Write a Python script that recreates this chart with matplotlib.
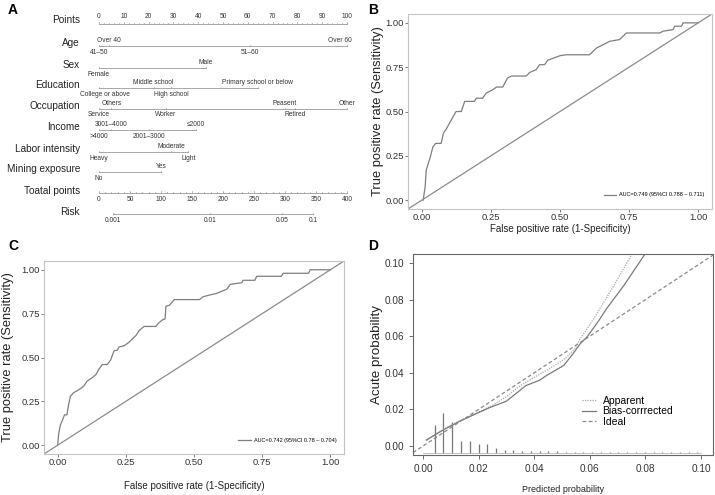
import matplotlib

matplotlib.use("Agg")
import matplotlib.pyplot as plt

plt.rcParams["font.family"] = ["Liberation Sans", "DejaVu Sans"]

W, H = 715, 495

# ---------------- nomogram (panel A) ----------------
row_names = ["Age", "Sex", "Education", "Occupation", "Income",
             "Labor intensity", "Mining exposure"]
age_levels = ["41–50", "Over 40", "51–60", "Over 60"]
age_points = [0, 4, 61, 100]
sex_levels = ["Female", "Male"]
sex_points = [0, 43]
edu_levels = ["College or above", "Middle school", "High school", "Primary school or below"]
edu_points = [0, 22, 29, 64]
occ_levels = ["Service", "Others", "Worker", "Peasent", "Retired", "Other"]
occ_points = [0, 5, 27, 75, 79, 100]
income_levels = [">4000", "3001–4000", "2001–3000", "≤2000"]
income_points = [0, 5, 20, 39]
labor_levels = ["Heavy", "Moderate", "Light"]
labor_points = [0, 29, 36]
mining_levels = ["No", "Yes"]
mining_points = [0, 25]

points_ticks = [0, 10, 20, 30, 40, 50, 60, 70, 80, 90, 100]
total_ticks = [0, 50, 100, 150, 200, 250, 300, 350, 400]
risk_labels = ["0.001", "0.01", "0.05", "0.1"]
risk_total_points = [23, 179, 295, 345]

# ---------------- ROC curves (panels B, C) ----------------
roc_b_fpr = [0.005, 0.012, 0.016, 0.024, 0.031, 0.04, 0.05, 0.07, 0.078, 0.09, 0.10,
             0.11, 0.124, 0.143, 0.155, 0.19, 0.197, 0.22, 0.233, 0.257, 0.27, 0.293,
             0.31, 0.324, 0.378, 0.39, 0.414, 0.426, 0.444, 0.456, 0.475, 0.5, 0.523,
             0.607, 0.62, 0.632, 0.656, 0.68, 0.716, 0.728, 0.74, 0.861, 0.873, 0.909,
             0.915, 0.94, 0.945, 1.0]
roc_b_tpr = [0.0, 0.075, 0.17, 0.21, 0.245, 0.30, 0.32, 0.32, 0.377, 0.405, 0.434,
             0.462, 0.5, 0.5, 0.557, 0.557, 0.575, 0.575, 0.604, 0.623, 0.638, 0.638,
             0.689, 0.70, 0.70, 0.72, 0.736, 0.764, 0.764, 0.79, 0.80, 0.815, 0.82,
             0.82, 0.84, 0.858, 0.877, 0.896, 0.906, 0.925, 0.943, 0.943, 0.953, 0.962,
             0.981, 0.981, 1.0, 1.0]
roc_b_label = "AUC=0.749 (95%CI 0.788 – 0.711)"

roc_c_fpr = [0.0, 0.004, 0.01, 0.018, 0.025, 0.034, 0.04, 0.047, 0.059, 0.071, 0.084,
             0.096, 0.108, 0.127, 0.141, 0.151, 0.164, 0.182, 0.194, 0.207, 0.219,
             0.225, 0.244, 0.262, 0.274, 0.287, 0.299, 0.317, 0.36, 0.37, 0.385, 0.394,
             0.397, 0.41, 0.428, 0.52, 0.533, 0.557, 0.582, 0.62, 0.633, 0.675, 0.68,
             0.723, 0.73, 0.82, 0.827, 0.92, 0.926, 1.0]
roc_c_tpr = [0.0, 0.067, 0.115, 0.144, 0.173, 0.173, 0.23, 0.28, 0.30, 0.31, 0.323,
             0.337, 0.365, 0.385, 0.404, 0.433, 0.46, 0.46, 0.485, 0.538, 0.542, 0.56,
             0.567, 0.587, 0.606, 0.625, 0.654, 0.677, 0.677, 0.696, 0.715, 0.72,
             0.792, 0.798, 0.83, 0.83, 0.846, 0.856, 0.865, 0.889, 0.917, 0.926, 0.94,
             0.94, 0.963, 0.963, 0.98, 0.98, 1.0, 1.0]
roc_c_label = "AUC=0.742 (95%CI 0.78 – 0.704)"

# ---------------- calibration (panel D) ----------------
apparent_x = [0.0012, 0.005, 0.010, 0.015, 0.020, 0.0253, 0.030, 0.035, 0.040, 0.0446,
              0.049, 0.0518, 0.0545, 0.0566, 0.059, 0.0614, 0.065, 0.0687, 0.0752]
apparent_y = [0.0030, 0.0070, 0.0115, 0.0150, 0.0185, 0.0225, 0.0270, 0.0330, 0.0375,
              0.0415, 0.0455, 0.0487, 0.0530, 0.0587, 0.0640, 0.0696, 0.0785, 0.0878, 0.105]
bias_x = [0.0012, 0.0072, 0.0133, 0.0193, 0.024, 0.030, 0.037, 0.042, 0.0446, 0.0506,
          0.054, 0.0566, 0.059, 0.063, 0.066, 0.0723, 0.0799]
bias_y = [0.0033, 0.0087, 0.0136, 0.0178, 0.0210, 0.0245, 0.0330, 0.0360, 0.0387, 0.0440,
          0.0505, 0.0560, 0.0596, 0.0680, 0.0750, 0.0878, 0.1050]
spike_x = [0.0042, 0.0073, 0.0105, 0.0137, 0.0169, 0.0200, 0.0231, 0.0262, 0.0294,
           0.0325, 0.0357, 0.0388, 0.0420, 0.0451, 0.0483, 0.0514, 0.0546, 0.0577,
           0.0608, 0.0640, 0.0671, 0.0703, 0.0734, 0.0766, 0.0797, 0.0829, 0.0860,
           0.0892, 0.0923, 0.0955, 0.0986]
spike_h = [0.0151, 0.0214, 0.0169, 0.0063, 0.0063, 0.0046, 0.0049, 0.0026, 0.0014,
           0.0016, 0.0010, 0.0010, 0.0008, 0.0008, 0.0010, 0.0006, 0.0006, 0.0006,
           0.0006, 0.0006, 0.0006, 0.0006, 0.0006, 0.0006, 0.0006, 0.0006, 0.0006,
           0.0006, 0.0006, 0.0006, 0.0006]
spike_base = -0.0036

fig = plt.figure(figsize=(W / 100, H / 100), dpi=100)


def px_axes(l, t, r, b):
    return fig.add_axes([l / W, 1 - b / H, (r - l) / W, (b - t) / H])


LINE = "#9a9a9a"
TXT = "#333333"

# ---------------- panel A ----------------
axA = px_axes(0, 0, 360, 240)
# points 0 -> px 99, 100 -> px 347
axA.set_xlim(-99 / 2.48, (360 - 99) / 2.48)
axA.set_ylim(240, 0)
axA.axis("off")

label_x = (80 - 99) / 2.48
fs_row = 7.2
fs_lvl = 4.8

# Points axis
y_pts = 24
axA.text(label_x, y_pts - 4, "Points", ha="right", va="center", fontsize=fs_row, color="#222")
axA.plot([0, 100], [y_pts, y_pts], color=LINE, lw=0.6)
for p in range(0, 101, 2):
    ln = 2.5 if p % 10 == 0 else 1.2
    axA.plot([p, p], [y_pts, y_pts - ln], color=LINE, lw=0.5)
for p in points_ticks:
    axA.text(p, y_pts - 4, str(p), ha="center", va="bottom", fontsize=fs_lvl, color=TXT)

rows = [
    (age_levels, age_points, 46),
    (sex_levels, sex_points, 68),
    (edu_levels, edu_points, 88),
    (occ_levels, occ_points, 109),
    (income_levels, income_points, 130),
    (labor_levels, labor_points, 152),
    (mining_levels, mining_points, 172),
]
for name, (levels, pts, y) in zip(row_names, rows):
    axA.text(label_x, y - 3, name, ha="right", va="center", fontsize=fs_row, color="#222")
    axA.plot([min(pts), max(pts)], [y, y], color=LINE, lw=0.6)
    for i, (lev, p) in enumerate(zip(levels, pts)):
        axA.plot([p, p], [y, y - 1.5], color=LINE, lw=0.5)
        tx, ha = p, "center"
        if p == 0 and len(lev) > 10:
            tx, ha = -7.5, "left"
        if p == 100 and len(lev) > 5:
            tx = 97
        if i % 2 == 0:
            axA.text(tx, y + 2.5, lev, ha=ha, va="top", fontsize=fs_lvl, color=TXT)
        else:
            axA.text(tx, y - 2.0, lev, ha=ha, va="bottom", fontsize=fs_lvl, color=TXT)

# Total points axis (0-400 mapped onto 0-100 points)
y_tot = 193
axA.text(label_x, y_tot - 2, "Toatal points", ha="right", va="center", fontsize=fs_row, color="#222")
axA.plot([0, 100], [y_tot, y_tot], color=LINE, lw=0.6)
for t in range(0, 401, 10):
    ln = 2.5 if t % 50 == 0 else 1.2
    axA.plot([t / 4, t / 4], [y_tot, y_tot - ln], color=LINE, lw=0.5)
for t in total_ticks:
    axA.text(t / 4, y_tot + 3, str(t), ha="center", va="top", fontsize=fs_lvl, color=TXT)

# Risk axis
y_risk = 214
axA.text(label_x, y_risk - 2, "Risk", ha="right", va="center", fontsize=fs_row, color="#222")
axA.plot([risk_total_points[0] / 4, risk_total_points[-1] / 4], [y_risk, y_risk], color=LINE, lw=0.6)
for lab, t in zip(risk_labels, risk_total_points):
    axA.plot([t / 4, t / 4], [y_risk, y_risk - 1.5], color=LINE, lw=0.5)
    axA.text(t / 4, y_risk + 3, lab, ha="center", va="top", fontsize=fs_lvl, color=TXT)


# ---------------- ROC panels ----------------
def roc_panel(box, fpr, tpr, label, ylab_x, xlab_y, leg_anchor):
    ax = px_axes(*box)
    ax.plot(fpr, tpr, color="#7f7f7f", lw=0.9, label=label)
    ax.axline((0, 0), (1, 1), color="#8c8c8c", lw=0.9)
    ax.set_xlim(-0.05, 1.05)
    ax.set_ylim(-0.05, 1.05)
    ticks = [0, 0.25, 0.5, 0.75, 1.0]
    ax.set_xticks(ticks, ["0.00", "0.25", "0.50", "0.75", "1.00"])
    ax.set_yticks(ticks, ["0.00", "0.25", "0.50", "0.75", "1.00"])
    ax.tick_params(length=2, width=0.6, color="#666", labelsize=6.8, labelcolor="#333", pad=1)
    for s in ax.spines.values():
        s.set_color("#c4c4c4")
        s.set_linewidth(0.8)
    ax.set_ylabel("True positive rate (Sensitivity)", fontsize=9.3, color="#222")
    ax.set_xlabel("False positive rate (1-Specificity)", fontsize=7, color="#222")
    ax.yaxis.set_label_coords(ylab_x, 0.5)
    ax.xaxis.set_label_coords(0.5, xlab_y)
    ax.legend(loc="lower right", bbox_to_anchor=leg_anchor, frameon=False, fontsize=4,
              handlelength=2.2, handletextpad=0.6, borderpad=0)
    return ax


roc_panel((408, 14, 712, 209), roc_b_fpr, roc_b_tpr, roc_b_label, -0.078, -0.075, (0.985, 0.045))
roc_panel((44, 261, 344, 454), roc_c_fpr, roc_c_tpr, roc_c_label, -0.1, -0.14, (0.985, 0.045))

# ---------------- panel D ----------------
axD = px_axes(413, 254, 713, 455)
axD.vlines(spike_x, spike_base, [spike_base + h for h in spike_h], color="#777", lw=0.9)
axD.plot([0, 0.1], [spike_base, spike_base], color="#aaa", lw=0.5)
axD.plot(apparent_x, apparent_y, color="#a8a8a8", lw=0.9, ls=(0, (1, 1)), label="Apparent")
axD.plot(bias_x, bias_y, color="#7a7a7a", lw=0.9, label="Bias-corrrected")
axD.axline((0, 0), (0.1, 0.1), color="#8a8a8a", lw=0.9, ls=(0, (3, 2)), label="Ideal")
axD.set_xlim(-0.0036, 0.1043)
axD.set_ylim(-0.0049, 0.1049)
dt = [0, 0.02, 0.04, 0.06, 0.08, 0.10]
axD.set_xticks(dt, ["0.00", "0.02", "0.04", "0.06", "0.08", "0.10"])
axD.set_yticks(dt, ["0.00", "0.02", "0.04", "0.06", "0.08", "0.10"])
axD.tick_params(length=3, width=0.6, color="#555", labelsize=7.2, labelcolor="#333", pad=3.5)
for s in axD.spines.values():
    s.set_color("#666")
    s.set_linewidth(0.8)
axD.set_ylabel("Acute probability", fontsize=9.6, color="#222")
axD.set_xlabel("Predicted probability", fontsize=6.5, color="#222")
axD.yaxis.set_label_coords(-0.1, 0.5)
axD.xaxis.set_label_coords(0.5, -0.15)
axD.legend(loc="upper left", bbox_to_anchor=(0.545, 0.32), frameon=False, fontsize=7.5,
           handlelength=1.4, handletextpad=0.6, labelspacing=0.05, borderpad=0)

# panel letters
for lab, x, y in [("A", 8, 10), ("B", 368, 10), ("C", 8, 246), ("D", 368, 246)]:
    fig.text(x / W, 1 - y / H, lab, fontsize=10, fontweight="bold", ha="left", va="center")

fig.savefig("out.png", dpi=100)
